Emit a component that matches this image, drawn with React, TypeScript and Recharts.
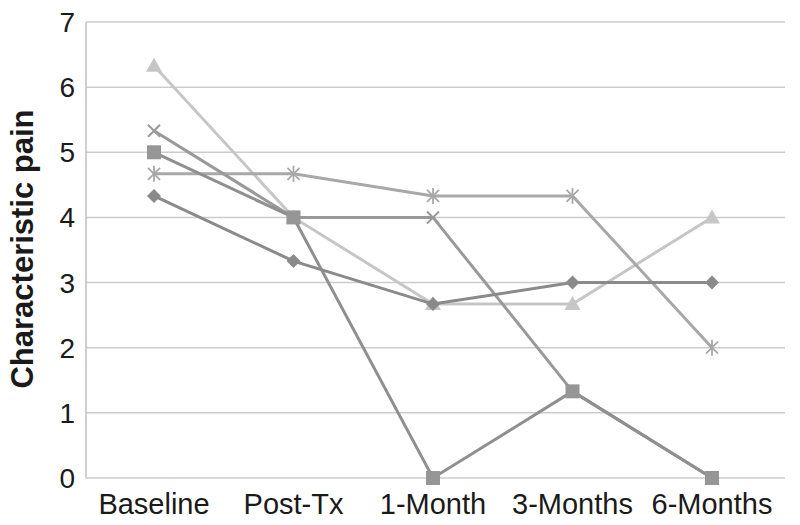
import React from "react";
import { LineChart, Line, XAxis, YAxis, CartesianGrid, Label } from "recharts";

const categories = ["Baseline", "Post-Tx", "1-Month", "3-Months", "6-Months"];
const diamondSeries = [4.33, 3.33, 2.67, 3, 3];
const squareSeries = [5, 4, 0, 1.33, 0];
const triangleSeries = [6.33, 4, 2.67, 2.67, 4];
const crossSeries = [5.33, 4, 4, 1.33, 0];
const starSeries = [4.67, 4.67, 4.33, 4.33, 2];
const yTicks = [0, 1, 2, 3, 4, 5, 6, 7];

const data = categories.map((name, i) => ({
  name,
  diamond: diamondSeries[i],
  square: squareSeries[i],
  triangle: triangleSeries[i],
  cross: crossSeries[i],
  star: starSeries[i],
}));

type Shape = "diamond" | "square" | "triangle" | "cross" | "star";

const makeDot = (shape: Shape, color: string) => (props: any) => {
  const { cx, cy, index } = props;
  const k = `${shape}-${index}`;
  if (cx == null || cy == null) return <g key={k} />;
  switch (shape) {
    case "diamond":
      return (
        <polygon
          key={k}
          points={`${cx},${cy - 7} ${cx + 7},${cy} ${cx},${cy + 7} ${cx - 7},${cy}`}
          fill={color}
        />
      );
    case "square":
      return <rect key={k} x={cx - 7} y={cy - 7} width={14} height={14} fill={color} />;
    case "triangle":
      return (
        <polygon
          key={k}
          points={`${cx},${cy - 8} ${cx + 8},${cy + 6} ${cx - 8},${cy + 6}`}
          fill={color}
        />
      );
    case "cross":
      return (
        <g key={k} stroke={color} strokeWidth={2}>
          <line x1={cx - 6} y1={cy - 6} x2={cx + 6} y2={cy + 6} />
          <line x1={cx - 6} y1={cy + 6} x2={cx + 6} y2={cy - 6} />
        </g>
      );
    default:
      return (
        <g key={k} stroke={color} strokeWidth={1.8}>
          <line x1={cx - 6} y1={cy - 6} x2={cx + 6} y2={cy + 6} />
          <line x1={cx - 6} y1={cy + 6} x2={cx + 6} y2={cy - 6} />
          <line x1={cx} y1={cy - 8} x2={cx} y2={cy + 8} />
        </g>
      );
  }
};

const FONT = "'Liberation Sans', Arial, sans-serif";

export default function App() {
  return (
    <div style={{ position: "absolute", left: 0, top: 0, width: 800, height: 525, background: "#fff" }}>
      <LineChart
        width={800}
        height={525}
        data={data}
        margin={{ top: 22, right: 15, bottom: 0, left: 0 }}
      >
        <CartesianGrid vertical={false} stroke="#cccccc" strokeWidth={1.5} />
        <XAxis
          dataKey="name"
          padding={{ left: 68, right: 73 }}
          axisLine={false}
          tickLine={false}
          tickSize={6}
          tickMargin={9}
          height={47}
          interval={0}
          tick={{ fill: "#1a1a1a", fontSize: 29, fontFamily: FONT }}
        />
        <YAxis
          domain={[0, 7]}
          ticks={yTicks}
          width={86}
          axisLine={{ stroke: "#c0c0c0", strokeWidth: 1.5 }}
          tickLine={false}
          tickSize={6}
          tickMargin={5}
          tick={{ fill: "#1a1a1a", fontSize: 28, fontFamily: FONT }}
        >
          <Label
            content={() => (
              <text
                x={0}
                y={0}
                transform="translate(33 249) rotate(-90)"
                textAnchor="middle"
                fontSize={31}
                fontWeight="bold"
                fontFamily={FONT}
                fill="#1a1a1a"
              >
                Characteristic pain
              </text>
            )}
          />
        </YAxis>
        <Line
          dataKey="triangle"
          stroke="#c6c6c6"
          strokeWidth={3}
          dot={makeDot("triangle", "#c6c6c6")}
          isAnimationActive={false}
        />
        <Line
          dataKey="star"
          stroke="#a8a8a8"
          strokeWidth={3}
          dot={makeDot("star", "#a8a8a8")}
          isAnimationActive={false}
        />
        <Line
          dataKey="cross"
          stroke="#999999"
          strokeWidth={3}
          dot={makeDot("cross", "#999999")}
          isAnimationActive={false}
        />
        <Line
          dataKey="square"
          stroke="#8f8f8f"
          strokeWidth={3}
          dot={makeDot("square", "#969696")}
          isAnimationActive={false}
        />
        <Line
          dataKey="diamond"
          stroke="#8a8a8a"
          strokeWidth={3}
          dot={makeDot("diamond", "#8a8a8a")}
          isAnimationActive={false}
        />
      </LineChart>
    </div>
  );
}
